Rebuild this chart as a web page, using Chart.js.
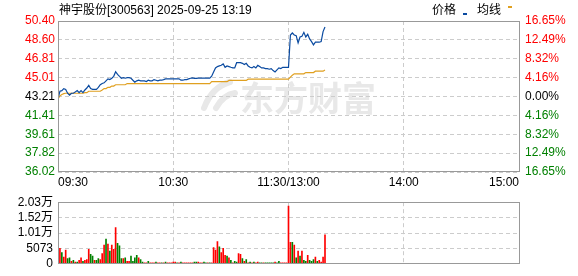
<!DOCTYPE html>
<html>
<head>
<meta charset="utf-8">
<script src="https://cdn.jsdelivr.net/npm/chart.js@4.4.1/dist/chart.umd.min.js"></script>
<style>
  html, body { margin: 0; padding: 0; background: #fff; }
  #wrap { position: relative; width: 578px; height: 276px; }
  #priceChart { position: absolute; left: 0; top: 0; }
  #volumeChart { position: absolute; left: 0; top: 190px; }
</style>
</head>
<body>
<div id="wrap">
  <canvas id="priceChart" width="578" height="190"></canvas>
  <canvas id="volumeChart" width="578" height="86"></canvas>
</div>
<script>
const stockTitle = '神宇股份[300563] 2025-09-25 13:19';
const prevClose = 43.21;

const timeTicks = [0, 60, 120, 180, 240];
const timeLabels = ['09:30', '10:30', '11:30/13:00', '14:00', '15:00'];

const priceTicks = [36.02, 37.82, 39.61, 41.41, 43.21, 45.01, 46.81, 48.60, 50.40];
const pctLabels = ['16.65%', '12.49%', '8.32%', '4.16%', '0.00%', '4.16%', '8.32%', '12.49%', '16.65%'];

const volTicks = [0, 5073, 10146, 15219, 20292];
const volLabels = ['0', '5073', '1.01万', '1.52万', '2.03万'];

// one value per minute, 09:30 .. 13:19
const priceLine = [
  42.98, 43.71, 43.77, 43.96, 43.89, 43.52, 43.33, 43.52, 43.52, 43.65,
  43.77, 43.58, 43.77, 43.58, 43.83, 44.02, 44.27, 43.96, 43.89, 43.89,
  43.89, 44.08, 44.33, 44.45, 44.51, 44.70, 44.89, 44.82, 44.95, 45.13,
  45.57, 45.32, 45.13, 44.95, 45.01, 44.95, 45.01, 45.01, 44.95, 44.76,
  44.58, 44.70, 44.76, 44.70, 44.70, 44.70, 44.64, 44.76, 44.70, 44.70,
  44.82, 44.76, 44.70, 44.76, 44.76, 44.82, 44.89, 44.89, 44.89, 44.89,
  44.89, 44.89, 44.89, 44.89, 44.76, 44.76, 44.82, 44.82, 44.89, 44.95,
  44.99, 44.93, 44.93, 44.96, 44.96, 44.96, 44.96, 44.96, 44.96, 44.96,
  45.15, 45.55, 45.93, 46.06, 46.12, 46.18, 46.31, 45.99, 46.12, 46.06,
  45.99, 45.93, 45.93, 46.43, 46.43, 46.43, 46.37, 46.25, 46.37, 46.12,
  45.99, 45.93, 46.06, 45.93, 46.18, 46.06, 45.93, 45.93, 45.87, 45.87,
  45.81, 45.87, 45.68, 45.55, 45.74, 45.93, 45.87, 45.99, 45.99, 45.99,
  45.99, 49.07, 49.26, 49.07, 49.01, 48.32, 48.88, 48.95, 49.32, 48.88,
  49.13, 48.69, 48.44, 48.13, 48.38, 48.38, 48.38, 48.44, 49.39, 49.82
];

const avgLine = [
  42.98, 43.27, 43.40, 43.48, 43.52, 43.52, 43.52, 43.52, 43.52, 43.52,
  43.52, 43.52, 43.52, 43.52, 43.58, 43.58, 43.71, 43.71, 43.71, 43.71,
  43.71, 43.71, 43.71, 43.83, 43.96, 43.96, 44.08, 44.08, 44.20, 44.20,
  44.33, 44.33, 44.33, 44.33, 44.33, 44.33, 44.44, 44.44, 44.44, 44.44,
  44.44, 44.44, 44.44, 44.44, 44.44, 44.44, 44.44, 44.44, 44.44, 44.44,
  44.44, 44.44, 44.44, 44.44, 44.44, 44.44, 44.44, 44.44, 44.44, 44.44,
  44.44, 44.44, 44.44, 44.44, 44.44, 44.44, 44.44, 44.44, 44.44, 44.44,
  44.44, 44.44, 44.44, 44.44, 44.44, 44.44, 44.44, 44.44, 44.44, 44.44,
  44.62, 44.62, 44.62, 44.62, 44.62, 44.62, 44.62, 44.62, 44.62, 44.74,
  44.74, 44.74, 44.74, 44.74, 44.74, 44.74, 44.74, 44.74, 44.74, 44.86,
  44.86, 44.86, 44.86, 44.86, 44.86, 44.86, 44.86, 44.86, 44.86, 44.86,
  44.86, 44.86, 44.86, 44.86, 44.86, 44.86, 44.86, 44.86, 44.86, 44.86,
  44.86, 45.05, 45.24, 45.37, 45.37, 45.37, 45.37, 45.37, 45.37, 45.49,
  45.49, 45.49, 45.49, 45.49, 45.62, 45.62, 45.62, 45.62, 45.62, 45.74
];

const volumes = [
  0, 5070, 3660, 2250, 4510, 1690, 1970, 850, 1130, 560,
  560, 1130, 1970, 850, 1130, 1410, 4790, 3100, 2540, 1130,
  1130, 1690, 1410, 3380, 6200, 8170, 6480, 4230, 6200, 4790,
  11900, 6760, 5920, 1690, 1690, 1970, 850, 850, 2540, 850,
  1970, 2820, 1970, 1410, 560, 280, 280, 850, 280, 280,
  280, 560, 280, 280, 280, 280, 560, 280, 280, 280,
  560, 560, 280, 280, 560, 280, 280, 280, 280, 280,
  280, 560, 560, 560, 280, 280, 560, 280, 280, 280,
  280, 5350, 4510, 7320, 5630, 3660, 5070, 2820, 2540, 1970,
  1130, 280, 850, 560, 3380, 3100, 1690, 850, 1410, 280,
  560, 280, 560, 280, 560, 280, 280, 280, 280, 280,
  280, 280, 280, 560, 280, 850, 280, 280, 280, 280,
  19000, 7040, 7040, 6200, 1970, 4230, 2540, 4230, 1130, 850,
  2820, 1130, 850, 1410, 2250, 850, 1130, 560, 2250, 9580
];

// r = up minute, g = down minute
const volumeSide = (
  'rrgrrggrgr' + 'grrgrrrggr' + 'ggrrrgrgrr' + 'rgggrgrrgg' + 'ggrggrrgrr' +
  'rgrrgrgrrr' + 'rrgrgrrrrr' + 'rggrrrggrg' + 'rrrrgrrrgr' + 'grggrrgrgr' +
  'grgrrggrgg' + 'gggrggrrrr' + 'rrgrgrgrgg' + 'rgggrgrrrr'
).split('');

const priceColor = '#0a4aa0';
const avgColor = '#e0a020';
const upColor = '#ff0000';
const downColor = '#008000';
const gridColor = '#cccccc';

Chart.defaults.font.family = "'Liberation Sans', 'Noto Sans CJK SC', sans-serif";
Chart.defaults.font.size = 12;

function levelColor(v) {
  if (Math.abs(v - prevClose) < 0.001) return '#000';
  return v > prevClose ? upColor : downColor;
}

const frame = {
  id: 'frame',
  afterDatasetsDraw(chart) {
    const { ctx, chartArea: a } = chart;
    ctx.save();
    ctx.strokeStyle = '#999';
    ctx.lineWidth = 1;
    ctx.strokeRect(Math.round(a.left) + 0.5, Math.round(a.top) + 0.5,
      Math.round(a.right - a.left), Math.round(a.bottom - a.top) - 1);
    ctx.restore();
  }
};

const watermark = {
  id: 'watermark',
  beforeDraw(chart) {
    const ctx = chart.ctx;
    ctx.save();
    ctx.fillStyle = '#e8e8e8';
    ctx.strokeStyle = '#e8e8e8';
    ctx.font = "bold 34px 'Noto Sans CJK SC'";
    ctx.fillText('东方财富', 240, 111);
    ctx.lineWidth = 6;
    ctx.lineCap = 'round';
    ctx.beginPath();
    ctx.moveTo(204, 108);
    ctx.quadraticCurveTo(212, 87, 230, 82);
    ctx.stroke();
    ctx.beginPath();
    ctx.moveTo(216, 108);
    ctx.quadraticCurveTo(223, 95, 235, 93);
    ctx.stroke();
    ctx.restore();
  }
};

const header = {
  id: 'header',
  afterDraw(chart) {
    const ctx = chart.ctx;
    ctx.save();
    ctx.font = "12px 'Liberation Sans', 'Noto Sans CJK SC'";
    ctx.fillStyle = '#000';
    ctx.textAlign = 'left';
    ctx.textBaseline = 'alphabetic';
    ctx.fillText(stockTitle, 59, 14);
    ctx.fillText('价格', 432, 14);
    ctx.fillText('均线', 477, 14);
    ctx.fillStyle = priceColor;
    ctx.fillRect(463, 13, 4, 2);
    ctx.fillStyle = avgColor;
    ctx.fillRect(508, 6, 4, 2);
    ctx.restore();
  }
};

new Chart(document.getElementById('priceChart'), {
  type: 'line',
  data: {
    datasets: [
      {
        label: '价格',
        data: priceLine.map((v, i) => ({ x: i, y: v })),
        borderColor: priceColor,
        borderWidth: 1.2,
        pointRadius: 0,
        tension: 0
      },
      {
        label: '均线',
        data: avgLine.map((v, i) => ({ x: i, y: v })),
        borderColor: avgColor,
        borderWidth: 1.2,
        pointRadius: 0,
        tension: 0
      }
    ]
  },
  options: {
    responsive: false,
    animation: false,
    events: [],
    layout: { padding: { top: 21, left: 0, right: 0, bottom: 0 } },
    plugins: { legend: { display: false }, tooltip: { enabled: false } },
    scales: {
      x: {
        type: 'linear',
        min: 0,
        max: 240,
        afterBuildTicks: s => { s.ticks = timeTicks.map(v => ({ value: v })); },
        afterFit: s => { s.height = 18; },
        ticks: {
          align: 'inner',
          autoSkip: false,
          maxRotation: 0,
          padding: 3,
          color: '#000',
          callback: (v, i) => timeLabels[i]
        },
        grid: { color: gridColor, drawTicks: false },
        border: { display: false, dash: [4, 3] }
      },
      y: {
        position: 'left',
        min: priceTicks[0],
        max: priceTicks[priceTicks.length - 1],
        afterBuildTicks: s => { s.ticks = priceTicks.map(v => ({ value: v })); },
        afterFit: s => { s.width = 58; },
        ticks: {
          autoSkip: false,
          padding: 3,
          color: c => levelColor(c.tick.value),
          callback: v => v.toFixed(2)
        },
        grid: { color: gridColor, drawTicks: false },
        border: { display: false, dash: [4, 3] }
      },
      y2: {
        position: 'right',
        min: priceTicks[0],
        max: priceTicks[priceTicks.length - 1],
        afterBuildTicks: s => { s.ticks = priceTicks.map(v => ({ value: v })); },
        afterFit: s => { s.width = 59; },
        ticks: {
          autoSkip: false,
          padding: 6,
          color: c => levelColor(c.tick.value),
          callback: (v, i) => pctLabels[pctLabels.length - 1 - i]
        },
        grid: { display: false, drawTicks: false },
        border: { display: false }
      }
    }
  },
  plugins: [watermark, frame, header]
});

new Chart(document.getElementById('volumeChart'), {
  type: 'bar',
  data: {
    datasets: [{
      data: volumes.map((v, i) => ({ x: i, y: v })),
      backgroundColor: volumeSide.map(s => (s === 'r' ? upColor : downColor)),
      borderWidth: 0,
      barThickness: 1
    }]
  },
  options: {
    responsive: false,
    animation: false,
    events: [],
    layout: { padding: { top: 6, left: 0, right: 59, bottom: 0 } },
    plugins: { legend: { display: false }, tooltip: { enabled: false } },
    scales: {
      x: {
        type: 'linear',
        min: 0,
        max: 240,
        offset: false,
        afterBuildTicks: s => { s.ticks = timeTicks.map(v => ({ value: v })); },
        afterFit: s => { s.height = 6; },
        ticks: { display: false },
        grid: { color: gridColor, drawTicks: false, offset: false },
        border: { display: false, dash: [4, 3] }
      },
      y: {
        min: 0,
        max: volTicks[volTicks.length - 1],
        afterBuildTicks: s => { s.ticks = volTicks.map(v => ({ value: v })); },
        afterFit: s => { s.width = 58; },
        ticks: {
          autoSkip: false,
          padding: 5,
          color: '#000',
          callback: (v, i) => volLabels[i]
        },
        grid: { color: gridColor, drawTicks: false },
        border: { display: false, dash: [4, 3] }
      }
    }
  },
  plugins: [frame]
});
</script>
</body>
</html>
